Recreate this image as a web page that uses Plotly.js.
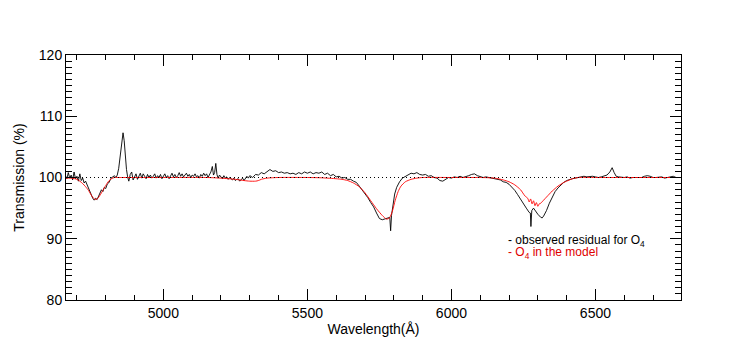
<!DOCTYPE html>
<html>
<head>
<meta charset="utf-8">
<script src="https://cdn.plot.ly/plotly-3.0.1.min.js"></script>
<style>
  html, body { margin: 0; padding: 0; background: #fff; }
  #chart { width: 747px; height: 355px; }
</style>
</head>
<body>
<div id="chart"></div>
<script>
// observed residual (black)
const obsWave = [
  4660, 4665, 4670, 4675, 4680, 4685, 4690, 4695, 4700, 4705, 4710, 4715, 4720, 4725, 4730, 4735,
  4740, 4745, 4750, 4755, 4760, 4765, 4770, 4775, 4780, 4785, 4790, 4795, 4800, 4805, 4810, 4815,
  4820, 4825, 4830, 4835, 4840, 4845, 4850, 4855, 4860, 4864, 4868, 4872, 4876, 4880, 4885, 4890,
  4895, 4900, 4905, 4910, 4915, 4920, 4925, 4930, 4935, 4940, 4945, 4950, 4955, 4960, 4965, 4970,
  4975, 4980, 4985, 4990, 4995, 5000, 5005, 5010, 5015, 5020, 5025, 5030, 5035, 5040, 5045, 5050,
  5055, 5060, 5065, 5070, 5075, 5080, 5085, 5090, 5095, 5100, 5105, 5110, 5115, 5120, 5125, 5130,
  5135, 5140, 5145, 5150, 5155, 5160, 5165, 5170, 5174, 5178, 5182, 5186, 5190, 5195, 5200, 5205,
  5210, 5215, 5220, 5225, 5230, 5235, 5240, 5245, 5250, 5255, 5260, 5265, 5270, 5275, 5280, 5285,
  5290, 5295, 5300, 5310, 5320, 5330, 5340, 5350, 5360, 5370, 5380, 5390, 5400, 5410, 5420, 5430,
  5440, 5450, 5460, 5470, 5480, 5490, 5500, 5510, 5520, 5530, 5540, 5550, 5560, 5570, 5580, 5590,
  5600, 5610, 5620, 5630, 5640, 5650, 5660, 5670, 5680, 5690, 5700, 5710, 5720, 5730, 5740, 5750,
  5760, 5770, 5780, 5786, 5789, 5792, 5797, 5803, 5810, 5820, 5830, 5840, 5850, 5860, 5870, 5880,
  5890, 5900, 5910, 5920, 5930, 5940, 5950, 5960, 5970, 5980, 5990, 6000, 6010, 6020, 6030, 6040,
  6050, 6060, 6070, 6080, 6090, 6100, 6110, 6120, 6130, 6140, 6150, 6160, 6170, 6180, 6190, 6200,
  6210, 6220, 6230, 6240, 6250, 6260, 6270, 6274, 6276, 6279, 6285, 6290, 6300, 6310, 6315, 6320,
  6330, 6340, 6350, 6360, 6370, 6380, 6390, 6400, 6410, 6420, 6430, 6440, 6450, 6460, 6470, 6480,
  6490, 6500, 6510, 6520, 6530, 6540, 6550, 6558, 6565, 6572, 6580, 6590, 6600, 6610, 6620, 6630,
  6640, 6650, 6660, 6670, 6680, 6690, 6700, 6710, 6720, 6730, 6740, 6750, 6760, 6770, 6780, 6790,
  6800
];
const obsTrans = [
  100.3, 99.8, 100.8, 99.9, 100.4, 99.6, 100.9, 99.8, 100.2, 99.4, 100.6, 99.5, 99.9, 99.1, 99.4, 98.8,
  98.3, 97.6, 97.1, 96.6, 96.3, 96.6, 96.4, 96.9, 97.6, 98.0, 97.7, 98.4, 98.2, 98.9, 99.1, 99.7,
  100.0, 100.1, 100.3, 100.0, 100.4, 101.5, 103.4, 105.8, 107.3, 106.0, 103.2, 101.3, 100.1, 99.4, 100.5, 100.9,
  99.6, 100.2, 100.6, 99.7, 100.3, 100.7, 99.9, 100.6, 100.2, 99.8, 100.5, 100.0, 100.4, 99.9, 100.2, 100.6,
  99.9, 100.3, 100.0, 100.5, 99.8, 100.2, 100.6, 100.0, 100.3, 99.8, 100.4, 100.7, 100.1, 100.5, 100.0, 100.3,
  100.8, 100.2, 100.6, 100.1, 100.4, 100.7, 100.2, 100.5, 100.0, 100.4, 100.2, 100.6, 100.1, 100.3, 99.9, 100.5,
  100.2, 100.7, 100.3, 100.6, 100.0, 100.4, 100.9, 101.8, 100.4, 100.8, 102.3, 100.5, 99.9, 100.4, 100.1, 99.8,
  100.3, 99.9, 100.1, 99.7, 100.0, 99.8, 99.6, 99.9, 99.5, 99.7, 99.8, 99.4, 99.6, 99.9, 99.5, 99.8,
  100.2, 99.9, 100.3, 100.0, 100.5, 100.4, 100.8, 100.6, 101.0, 101.3, 101.0, 101.1, 100.8, 100.9, 100.7, 100.8,
  100.6, 100.7, 100.5, 100.8, 100.6, 100.9, 100.7, 100.9, 100.6, 100.8, 100.7, 100.9, 100.5, 100.7, 100.3, 100.5,
  100.1, 100.2, 99.9, 100.0, 99.7, 99.7, 99.4, 99.2, 98.6, 98.0, 97.3, 96.7, 95.9, 95.2, 94.2, 93.3,
  93.1, 93.2, 93.4, 93.5, 91.3, 93.8, 95.2, 97.3, 98.4, 99.3, 99.9, 100.2, 100.4, 100.7, 100.6, 100.8,
  100.5, 100.4, 100.5, 100.2, 100.3, 100.0, 99.9, 99.5, 99.4, 99.7, 100.0, 99.9, 100.1, 100.0, 100.2, 100.0,
  100.1, 100.3, 100.5, 100.6, 100.3, 100.1, 100.0, 100.1, 100.0, 100.0, 99.9, 99.8, 99.6, 99.3, 99.2, 98.9,
  98.4, 97.9, 97.2, 96.4, 95.6, 95.0, 94.3, 94.2, 92.0, 94.6, 95.0, 94.6, 94.0, 93.5, 93.4, 93.7,
  94.6, 95.8, 96.9, 97.7, 98.3, 98.8, 99.2, 99.5, 99.7, 99.8, 99.9, 100.0, 100.1, 100.2, 100.1, 100.2,
  100.2, 100.1, 100.0, 100.1, 100.2, 100.4, 100.9, 101.6, 100.8, 100.2, 100.1, 100.0, 100.0, 100.1, 99.9, 100.0,
  100.0, 100.1, 100.0, 100.2, 100.3, 100.2, 100.0, 100.0, 100.0, 100.1, 99.9, 100.0, 100.1, 100.2, 100.0, 100.0,
  100.0
];

// O4 model (red)
const modelWave = [
  4660, 4680, 4700, 4710, 4720, 4730, 4740, 4750, 4758, 4765, 4772, 4780, 4790, 4800, 4810, 4820,
  4830, 4850, 5000, 5150, 5200, 5250, 5280, 5300, 5320, 5330, 5340, 5360, 5400, 5500, 5550, 5600,
  5620, 5640, 5660, 5680, 5700, 5720, 5740, 5760, 5775, 5785, 5795, 5805, 5815, 5825, 5840, 5860,
  5880, 5900, 6000, 6100, 6150, 6180, 6200, 6220, 6240, 6255, 6265, 6270, 6275, 6280, 6285, 6290,
  6295, 6300, 6305, 6310, 6320, 6330, 6340, 6350, 6360, 6370, 6380, 6390, 6400, 6420, 6440, 6500,
  6600, 6700, 6800
];
const modelTrans = [
  99.9, 99.9, 99.7, 99.4, 99.0, 98.5, 97.9, 97.1, 96.6, 96.4, 96.6, 97.1, 97.9, 98.7, 99.4, 99.8,
  100.0, 100.0, 100.0, 100.0, 99.9, 99.7, 99.5, 99.4, 99.4, 99.5, 99.7, 99.9, 100.0, 100.0, 99.95, 99.8,
  99.7, 99.5, 99.1, 98.5, 97.5, 96.2, 94.9, 93.8, 93.2, 93.4, 94.5, 96.3, 97.7, 98.6, 99.3, 99.7,
  99.9, 100.0, 100.0, 100.0, 99.9, 99.6, 99.3, 98.8, 98.0, 97.0, 96.6, 96.0, 96.5, 95.7, 96.2, 95.4,
  95.9, 95.3, 95.7, 95.8, 96.3, 96.8, 97.3, 97.8, 98.2, 98.6, 98.9, 99.2, 99.4, 99.8, 100.0, 100.0,
  100.0, 100.0, 100.0
];

const xRange = [4662, 6797];
const yRange = [80, 120];
const xTicks = [5000, 5500, 6000, 6500];
const yTicks = [80, 90, 100, 110, 120];

const font = "Liberation Sans, Arial, Helvetica, sans-serif";

const traces = [
  {
    type: "scatter",
    mode: "lines",
    x: obsWave,
    y: obsTrans,
    line: { color: "#000000", width: 0.9 },
    hoverinfo: "skip",
  },
  {
    type: "scatter",
    mode: "lines",
    x: modelWave,
    y: modelTrans,
    line: { color: "#ff0000", width: 0.9, shape: "spline", smoothing: 0.6 },
    hoverinfo: "skip",
  },
];

const axisCommon = {
  showgrid: false,
  zeroline: false,
  showline: true,
  linecolor: "#000000",
  linewidth: 1,
  mirror: "allticks",
  ticks: "inside",
  tickcolor: "#000000",
  tickwidth: 1,
  tickfont: { family: font, size: 14, color: "#000000" },
};

const layout = {
  width: 747,
  height: 355,
  margin: { l: 66, r: 66, t: 55, b: 55 },
  paper_bgcolor: "#ffffff",
  plot_bgcolor: "#ffffff",
  showlegend: false,
  font: { family: font, color: "#000000" },
  xaxis: {
    ...axisCommon,
    range: xRange,
    tickmode: "array",
    tickvals: xTicks,
    ticklen: 11,
    minor: { dtick: 100, tick0: 0, ticks: "inside", ticklen: 5, tickcolor: "#000000" },
    title: { text: "Wavelength(Å)", font: { family: font, size: 14 }, standoff: 4 },
  },
  yaxis: {
    ...axisCommon,
    range: yRange,
    tickmode: "array",
    tickvals: yTicks,
    ticklen: 11,
    minor: { dtick: 1, tick0: 0, ticks: "inside", ticklen: 6, tickcolor: "#000000" },
    title: { text: "Transmission (%)", font: { family: font, size: 14 }, standoff: 10 },
  },
  shapes: [
    {
      type: "line",
      xref: "paper", x0: 0, x1: 1,
      yref: "y", y0: 100, y1: 100,
      line: { color: "#000000", width: 1, dash: "1px,3px" },
    },
  ],
  annotations: [
    {
      xref: "x", yref: "y", x: 6189, y: 89.6,
      xanchor: "left", yanchor: "middle", showarrow: false,
      text: "- observed residual for O<sub>4</sub>",
      font: { family: font, size: 12, color: "#000000" },
    },
    {
      xref: "x", yref: "y", x: 6189, y: 87.7,
      xanchor: "left", yanchor: "middle", showarrow: false,
      text: "- O<sub>4</sub> in the model",
      font: { family: font, size: 12, color: "#e00000" },
    },
  ],
};

Plotly.newPlot("chart", traces, layout, { displayModeBar: false, staticPlot: true });
</script>
</body>
</html>
